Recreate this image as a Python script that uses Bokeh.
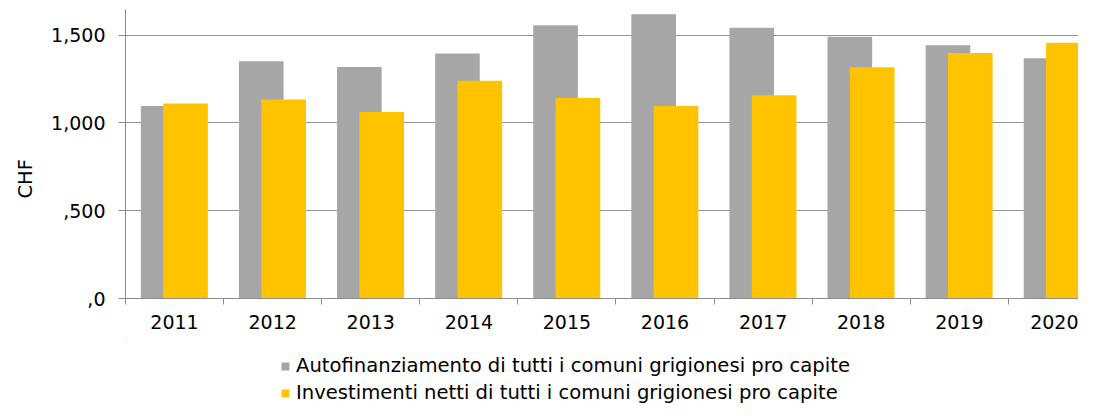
import numpy as np
from bokeh.plotting import figure
from bokeh.layouts import column
from bokeh.models import ColumnDataSource, FixedTicker, Legend, LegendItem, Title, Range1d
from bokeh.embed import file_html
from bokeh.resources import INLINE

# ---- data ----
years = ["2011", "2012", "2013", "2014", "2015", "2016", "2017", "2018", "2019", "2020"]
autofinanziamento = [1096, 1351, 1318, 1396, 1556, 1619, 1542, 1491, 1442, 1368]
investimenti = [1111, 1134, 1062, 1240, 1142, 1096, 1157, 1317, 1398, 1457]
y_ticks = [0, 500, 1000, 1500]
y_tick_labels = [",0", ",500", "1,000", "1,500"]
series_names = [
    "Autofinanziamento di tutti i comuni grigionesi pro capite",
    "Investimenti netti di tutti i comuni grigionesi pro capite",
]
y_title = "CHF"

FONT = "DejaVu Sans"
GREY = "#a6a6a6"
YELLOW = "#ffc300"
AXIS_COL = "#8c8c8c"

idx = np.arange(len(years))
src = ColumnDataSource(dict(
    x_a=idx + 0.384,
    x_i=idx + 0.612,
    a=autofinanziamento,
    i=investimenti,
))

p = figure(
    width=1078, height=340,
    x_range=Range1d(0, 9.715), y_range=Range1d(0, 1646),
    output_backend="svg", toolbar_location=None,
    min_border_left=125, min_border_right=0, min_border_top=9, min_border_bottom=42,
)
p.outline_line_color = None
p.background_fill_color = "white"

p.vbar(x="x_a", top="a", width=0.455, bottom=0, source=src,
       fill_color=GREY, line_color=None)
p.vbar(x="x_i", top="i", width=0.455, bottom=0, source=src,
       fill_color=YELLOW, line_color=None)

# x axis: labels at category centres, small ticks at category boundaries
xt = [i + 0.5 for i in range(len(years))]
p.xaxis.ticker = FixedTicker(ticks=xt, minor_ticks=list(range(len(years) + 1)))
p.xaxis.major_label_overrides = {t: y for t, y in zip(xt, years)}
p.xaxis.major_tick_line_color = None
p.xaxis.major_tick_out = 0
p.xaxis.major_tick_in = 0
p.xaxis.minor_tick_out = 6
p.xaxis.minor_tick_in = 0
p.xaxis.minor_tick_line_color = AXIS_COL
p.xaxis.axis_line_color = AXIS_COL
p.xaxis.major_label_standoff = 10
p.xaxis.major_label_text_font = FONT
p.xaxis.major_label_text_font_size = "19px"
p.xaxis.major_label_text_color = "#000000"
p.xgrid.grid_line_color = None

# y axis
p.yaxis.ticker = FixedTicker(ticks=y_ticks, minor_ticks=[])
p.yaxis.major_label_overrides = {t: l for t, l in zip(y_ticks, y_tick_labels)}
p.yaxis.major_tick_out = 7
p.yaxis.major_tick_in = 0
p.yaxis.major_tick_line_color = AXIS_COL
p.yaxis.minor_tick_line_color = None
p.yaxis.axis_line_color = AXIS_COL
p.yaxis.major_label_standoff = 13
p.yaxis.major_label_text_font = FONT
p.yaxis.major_label_text_font_size = "19px"
p.yaxis.major_label_text_color = "#000000"
p.ygrid.ticker = FixedTicker(ticks=y_ticks)
p.ygrid.grid_line_color = "#969696"
p.ygrid.grid_line_width = 1

# y title as a side title in the left panel
p.add_layout(Title(text=y_title, align="left", offset=100, standoff=21,
                   text_font=FONT, text_font_size="19.5px", text_font_style="normal",
                   text_color="#000000", vertical_align="middle"), "left")

# ---- legend strip below the chart ----
leg = figure(width=1078, height=64, x_range=Range1d(100, 101), y_range=Range1d(-20, -10),
             output_backend="svg", toolbar_location=None,
             x_axis_type=None, y_axis_type=None, min_border=0)
leg.outline_line_color = None
leg.xgrid.visible = False
leg.ygrid.visible = False
# proxy renderers (outside the strip's visible range) that carry the legend swatches
r_a = leg.vbar(x="x_a", top="a", width=0.455, bottom=0, source=src,
               fill_color=GREY, line_color=None)
r_i = leg.vbar(x="x_i", top="i", width=0.455, bottom=0, source=src,
               fill_color=YELLOW, line_color=None)

legend = Legend(
    items=[LegendItem(label=series_names[0], renderers=[r_a]),
           LegendItem(label=series_names[1], renderers=[r_i])],
    location=(155, 0), orientation="vertical",
    label_text_font=FONT, label_text_font_size="19.6px", label_text_color="#000000",
    glyph_width=10, glyph_height=10, label_height=20, spacing=4,
    padding=0, margin=0, border_line_color=None, background_fill_alpha=0,
    label_standoff=6,
)
leg.add_layout(legend)

layout = column(p, leg, spacing=0)
open("out.html", "w").write(file_html(layout, INLINE))
